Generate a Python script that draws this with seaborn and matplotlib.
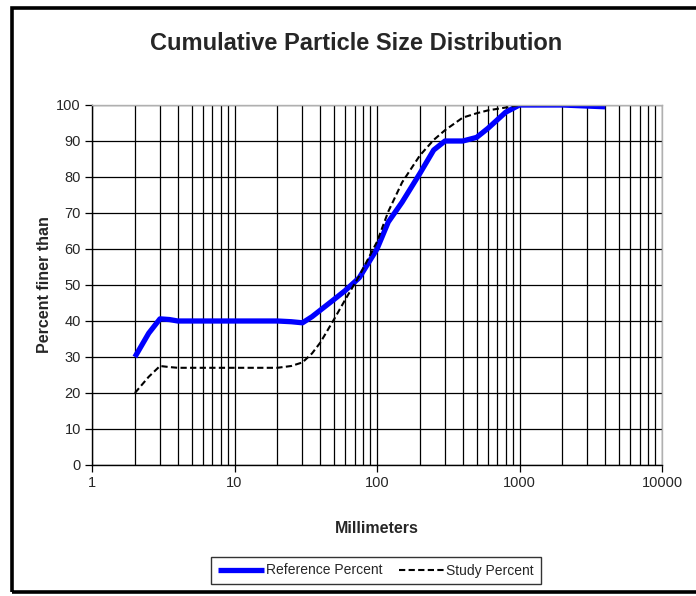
import matplotlib
matplotlib.use("Agg")
import matplotlib.pyplot as plt
import matplotlib.ticker as mticker
from matplotlib.patches import Rectangle
import seaborn as sns
import pandas as pd
import numpy as np

sizes = [2, 2.5, 3, 3.5, 4, 5, 7, 10, 15, 20, 25, 30, 35, 40, 50, 60, 75, 100, 120, 150, 200, 250, 300, 400, 500, 600, 800, 1000, 2000, 4000]
reference_percent = [30, 36.6, 40.6, 40.4, 40, 40, 40, 40, 40, 40, 39.8, 39.5, 41.2, 43, 46, 48.5, 52, 60, 67.5, 73, 81, 87.5, 90, 90, 91, 93.5, 98, 100, 100, 99.5]
study_percent = [20, 24.5, 27.5, 27.2, 27, 27, 27, 27, 27, 27, 27.5, 28.5, 31, 34, 40.5, 46, 52.5, 62, 70.4, 78.5, 86, 90.3, 93, 96.5, 97.7, 98.5, 99.3, 100, 100, 100]
y_ticks = list(range(0, 101, 10))
x_ticks = [1, 10, 100, 1000, 10000]
x_tick_labels = ["1", "10", "100", "1000", "10000"]

sns.set_style("white")
narrow = ["Liberation Sans Narrow", "Liberation Sans", "DejaVu Sans"]
plt.rcParams["font.family"] = narrow

fig = plt.figure(figsize=(6.96, 5.96), dpi=100)
ax = fig.add_axes([92/696, 1-465/596, (662-92)/696, (465-105)/596])

df = pd.DataFrame({"size": sizes, "Reference Percent": reference_percent, "Study Percent": study_percent})
sns.lineplot(data=df, x="size", y="Reference Percent", ax=ax, color="#0000ff", linewidth=3.8,
             label="Reference Percent", solid_capstyle="butt", solid_joinstyle="round")
sns.lineplot(data=df, x="size", y="Study Percent", ax=ax, color="black", linewidth=1.5,
             linestyle=(0, (3, 1.6)), label="Study Percent")

ax.set_xscale("log")
ax.set_xlim(1, 10000)
ax.set_ylim(0, 100)
ax.set_yticks(y_ticks)
ax.set_xticks(x_ticks)
ax.set_xticklabels(x_tick_labels)
ax.xaxis.set_minor_locator(mticker.LogLocator(base=10, subs=np.arange(2, 10)))
ax.xaxis.set_minor_formatter(mticker.NullFormatter())

ax.grid(True, which="major", axis="both", color="black", linewidth=0.9)
ax.grid(True, which="minor", axis="x", color="black", linewidth=0.9)
ax.set_axisbelow(True)

ax.tick_params(axis="both", which="major", direction="out", length=5, width=0.9, color="black",
               labelsize=10.5, pad=3, left=True, bottom=True)
ax.tick_params(axis="x", which="minor", length=0)
for s in ["left", "bottom"]:
    ax.spines[s].set_color("black")
    ax.spines[s].set_linewidth(1.0)
for s in ["top", "right"]:
    ax.spines[s].set_color("#b0b0b0")
    ax.spines[s].set_linewidth(1.0)

ax.set_xlabel("Millimeters", fontsize=11.5, fontweight="bold", labelpad=22)
ax.set_ylabel("Percent finer than", fontsize=11.5, fontweight="bold", labelpad=3,
              family=["Liberation Sans", "DejaVu Sans"])

fig.text(356/696, 1-44/596, "Cumulative Particle Size Distribution", ha="center", va="center",
         fontsize=17, fontweight="bold")

leg = ax.legend(loc="center", bbox_to_anchor=(376/696, 1-570.5/596), bbox_transform=fig.transFigure,
                ncol=2, frameon=True, fancybox=False, edgecolor="black", fontsize=10,
                handlelength=3.3, handletextpad=0.1, columnspacing=1.2, borderpad=0.5)
leg.get_frame().set_linewidth(1.0)

fig.patches.append(Rectangle((12/696, 4/596), 1.0, 1-11.5/596, transform=fig.transFigure,
                             fill=False, edgecolor="black", linewidth=2.6, zorder=10))

fig.savefig("out.png", dpi=100)
